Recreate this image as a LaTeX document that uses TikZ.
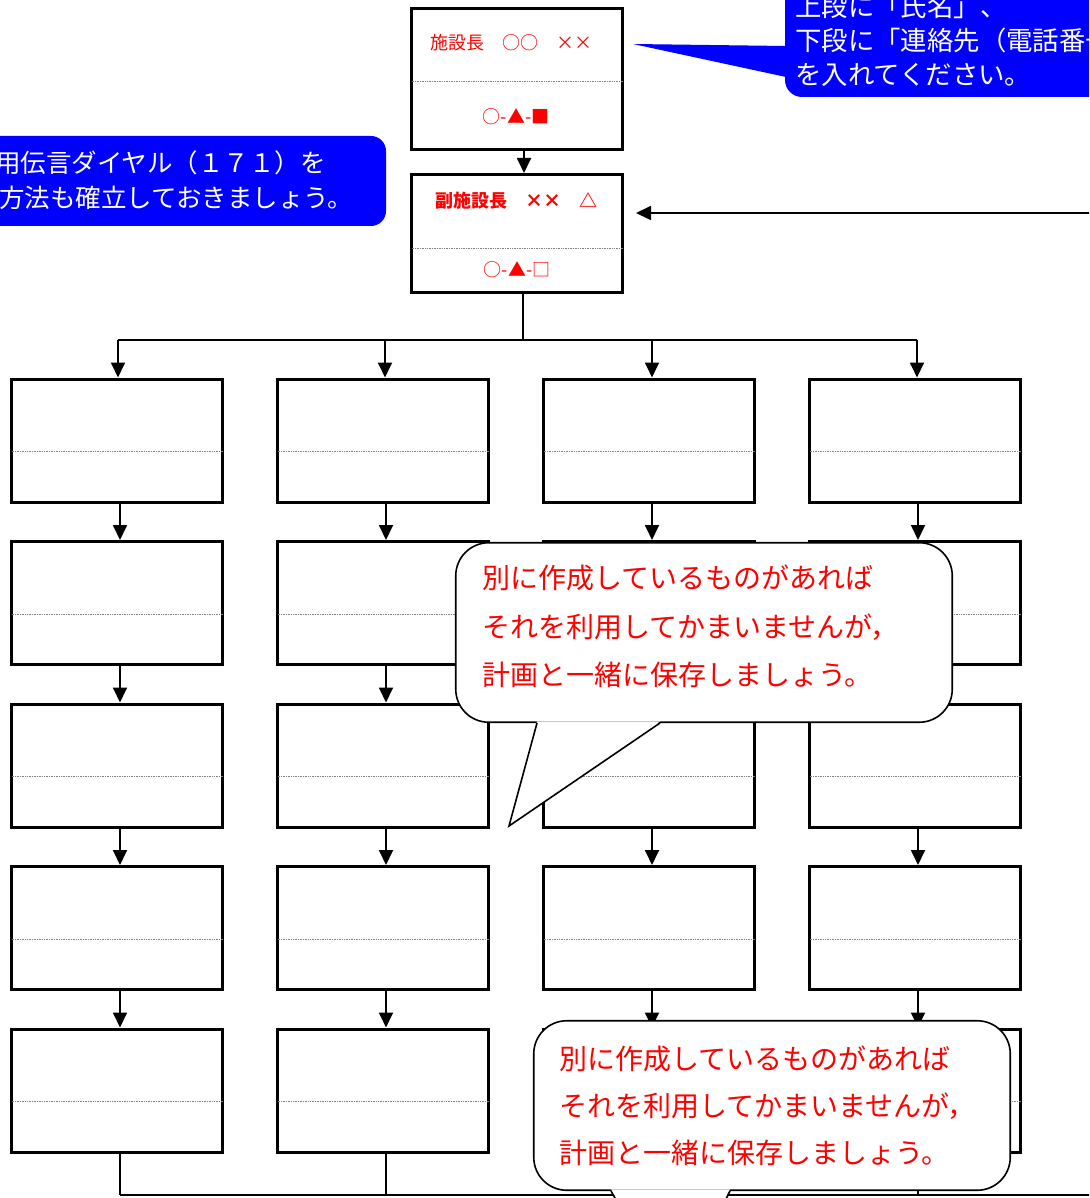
\documentclass[tikz,border=0pt]{standalone}
\usepackage{fontspec}
\setmainfont{Noto Sans CJK JP}
\usetikzlibrary{arrows.meta}
\definecolor{cblue}{RGB}{0,0,255}
\definecolor{cred}{RGB}{255,0,0}
\begin{document}
\begin{tikzpicture}[x=1pt,y=-1pt,
  cellbox/.style={draw, line width=3pt, minimum width=211pt, minimum height=123pt, inner sep=0pt, fill=white},
  divline/.style={draw=gray, densely dotted, line width=0.7pt},
  conn/.style={line width=1.8pt},
  arr/.style={line width=1.8pt, -{Triangle[length=15pt,width=14pt]}},
  bubble/.style={draw, line width=1.6pt, fill=white, rounded corners=33pt, inner sep=0pt},
  bubbleline/.style={line width=1.6pt, line join=miter},
  redtxt/.style={text=cred, inner sep=0pt},
  whitetxt/.style={text=white, inner sep=0pt, align=left}
]
\useasboundingbox (0,0) rectangle (1089,1198);
\clip (0,0) rectangle (1089,1198);
\fill[white] (0,0) rectangle (1089,1198);

% ---------- top boxes ----------
\node[cellbox, minimum height=141pt] (A) at (517,79) {};
\node[cellbox, minimum height=118pt] (B) at (517,233.5) {};
\draw[divline] ([xshift=1.5pt,yshift=-2pt]A.west) -- ([xshift=-1.5pt,yshift=-2pt]A.east);
\draw[divline] ([xshift=1.5pt,yshift=-14.5pt]B.west) -- ([xshift=-1.5pt,yshift=-14.5pt]B.east);
\node[redtxt, font=\fontsize{18}{20}\selectfont] (aname) at (511.5,42.7) {施設長　○○　××};
\node[redtxt, font=\fontsize{18}{20}\selectfont] (atel) at (516,116.7) {○-▲-■};
\node[redtxt, font=\fontsize{18}{20}\selectfont\bfseries] (bname) at (516.5,200.7) {副施設長　××　△};
\node[redtxt, font=\fontsize{18}{20}\selectfont] (btel) at (517,270) {○-▲-□};

\draw[arr] ([xshift=7pt]A.south) -- ([xshift=7pt]B.north);

\coordinate (rin) at (1095,213);
\coordinate (rtip) at (636,213);
\draw[arr] (rin) -- (rtip);

% ---------- grid ----------
\foreach \c/\x in {1/117,2/383,3/649,4/915}{
  \foreach \r in {1,...,5}{
    \node[cellbox] (b\r\c) at (\x,{440.5+162.5*(\r-1)}) {};
    \draw[divline] ([xshift=1.5pt,yshift=-11pt]b\r\c.west) -- ([xshift=-1.5pt,yshift=-11pt]b\r\c.east);
  }
}
\foreach \c in {1,...,4}{
  \foreach \r/\n in {1/2,2/3,3/4,4/5}{
    \draw[arr] ([xshift=3pt]b\r\c.south) -- ([xshift=3pt]b\n\c.north);
  }
}

% top distribution
\coordinate (hub) at (523,340);
\draw[conn] ([xshift=6pt]B.south) -- (hub);
\coordinate (t1) at (118,340);
\coordinate (t2) at (385,340);
\coordinate (t3) at (652,340);
\coordinate (t4) at (917,340);
\draw[conn] (t1) -- (t4);
\draw[arr] (t1) -- (t1 |- b11.north);
\draw[arr] (t2) -- (t2 |- b12.north);
\draw[arr] (t3) -- (t3 |- b13.north);
\draw[arr] (t4) -- (t4 |- b14.north);

% bottom collection
\coordinate (u1) at (120,1195);
\coordinate (u2) at (386,1195);
\coordinate (u3) at (652,1195);
\coordinate (u4) at (918,1195);
\coordinate (uend) at (1095,1195);
\draw[conn] ([xshift=3pt]b51.south) -- (u1);
\draw[conn] ([xshift=3pt]b52.south) -- (u2);
\draw[conn] ([xshift=3pt]b53.south) -- (u3);
\draw[conn] ([xshift=3pt]b54.south) -- (u4);
\draw[conn] (u1) -- (uend);

% ---------- blue callouts ----------
\fill[cblue, rounded corners=17pt] (785,-40) rectangle (1130,97);
\fill[cblue] (633,44) -- (786,46) -- (786,77) -- cycle;
\node[whitetxt, anchor=west, font=\fontsize{26.4}{34}\selectfont] (tr) at (795,40)
  {上段に「氏名」、\\下段に「連絡先（電話番号）」\\を入れてください。};

\fill[cblue, rounded corners=15pt] (-40,136) rectangle (386,226);
\node[whitetxt, anchor=east, font=\fontsize{25.5}{30}\selectfont] (l1) at (326,163) {用伝言ダイヤル（１７１）を};
\node[whitetxt, anchor=west, font=\fontsize{25.5}{30}\selectfont] (l2) at (-1,198) {方法も確立しておきましょう。};

% ---------- white speech bubbles ----------
\node[bubble, minimum width=496.5pt, minimum height=179.5pt] (C1) at (704,632.5) {};
\coordinate (c1a) at (537,723);
\coordinate (c1t) at (509,826);
\coordinate (c1b) at (660,723);
\fill[white] ([yshift=1.6pt]c1a) -- (c1t) -- ([yshift=1.6pt]c1b) -- cycle;
\draw[bubbleline] (c1a) -- (c1t) -- (c1b);
\node[redtxt, anchor=west, align=left, font=\fontsize{28}{48.5}\selectfont] (m1) at (482,626.5)
  {別に作成しているものがあれば\\それを利用してかまいませんが，\\計画と一緒に保存しましょう。};

\node[bubble, minimum width=476.5pt, minimum height=169.5pt] (C2) at (772,1105.5) {};
\coordinate (c2a) at (611,1191);
\coordinate (c2t) at (674,1302);
\coordinate (c2b) at (730,1191);
\fill[white] ([yshift=1.6pt]c2a) -- (c2t) -- ([yshift=1.6pt]c2b) -- cycle;
\draw[bubbleline] (c2a) -- (c2t) -- (c2b);
\node[redtxt, anchor=west, align=left, font=\fontsize{28}{47}\selectfont] (m2) at (559,1106)
  {別に作成しているものがあれば\\それを利用してかまいませんが，\\計画と一緒に保存しましょう。};
\end{tikzpicture}
\end{document}
